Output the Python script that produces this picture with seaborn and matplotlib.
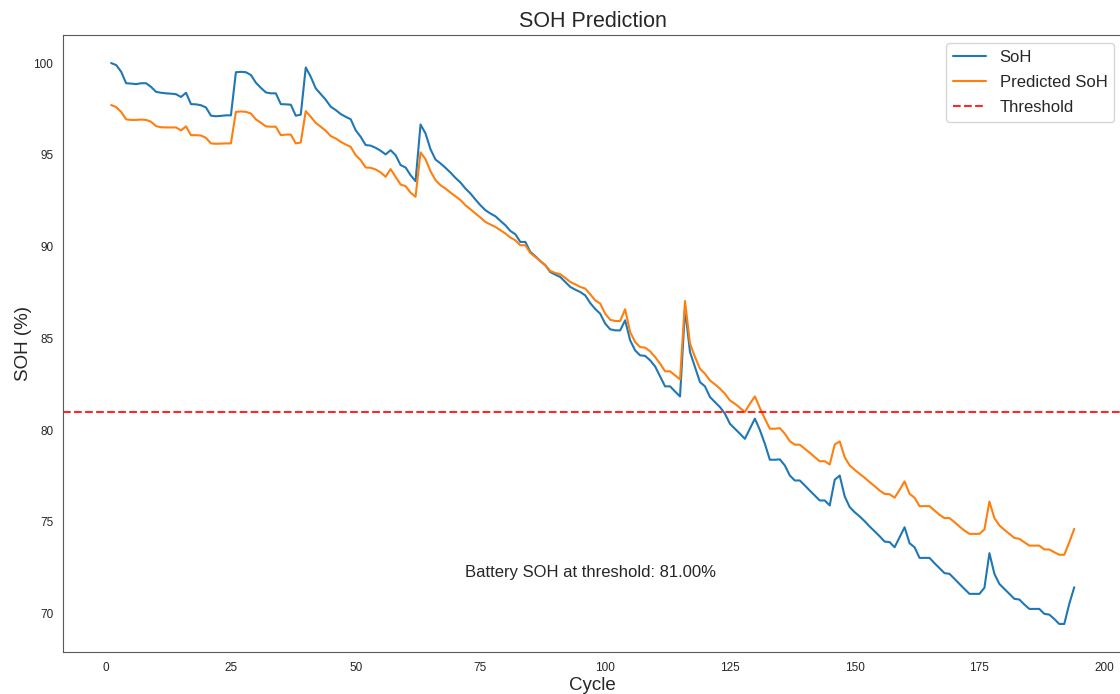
#!/usr/bin/env python3

import numpy as np
import pandas as pd
import seaborn as sns
import matplotlib as mpl
import matplotlib.pyplot as plt

sns.set_style("white", {"axes.edgecolor": "0.35"})
mpl.rcParams["font.family"] = ["Liberation Sans", "DejaVu Sans"]

threshold = 81.0

soh = [
    100.0, 99.89, 99.53, 98.9, 98.88, 98.85, 98.9, 98.9, 98.7, 98.43,
    98.38, 98.35, 98.33, 98.3, 98.15, 98.38, 97.76, 97.75, 97.7, 97.58,
    97.13, 97.1, 97.12, 97.15, 97.15, 99.5, 99.52, 99.5, 99.35, 98.93,
    98.65, 98.4, 98.35, 98.35, 97.76, 97.75, 97.73, 97.13, 97.19, 99.76,
    99.25, 98.62, 98.31, 98.0, 97.62, 97.44, 97.22, 97.07, 96.94, 96.34,
    95.98, 95.53, 95.5, 95.38, 95.22, 95.02, 95.25, 94.98, 94.44, 94.31,
    93.89, 93.56, 96.65, 96.16, 95.3, 94.74, 94.53, 94.29, 94.03, 93.74,
    93.49, 93.16, 92.89, 92.56, 92.25, 91.98, 91.8, 91.65, 91.4, 91.16,
    90.85, 90.67, 90.25, 90.25, 89.71, 89.47, 89.21, 88.98, 88.61, 88.47,
    88.34, 88.07, 87.8, 87.65, 87.52, 87.34, 86.92, 86.6, 86.34, 85.8,
    85.49, 85.43, 85.43, 85.98, 84.89, 84.34, 84.07, 84.04, 83.8, 83.47,
    82.92, 82.38, 82.38, 82.1, 81.83, 86.6, 84.25, 83.43, 82.61, 82.38,
    81.8, 81.52, 81.25, 80.89, 80.34, 80.07, 79.8, 79.52, 80.07, 80.62,
    80.0, 79.25, 78.38, 78.38, 78.4, 78.07, 77.52, 77.25, 77.25, 76.98,
    76.7, 76.43, 76.16, 76.16, 75.89, 77.29, 77.52, 76.38, 75.8, 75.52,
    75.29, 75.03, 74.74, 74.48, 74.21, 73.92, 73.89, 73.61, 74.16, 74.7,
    73.83, 73.61, 73.03, 73.03, 73.03, 72.74, 72.47, 72.2, 72.16, 71.89,
    71.61, 71.34, 71.07, 71.07, 71.07, 71.4, 73.29, 72.16, 71.61, 71.34,
    71.07, 70.8, 70.76, 70.49, 70.25, 70.25, 70.25, 69.98, 69.94, 69.7,
    69.43, 69.43, 70.52, 71.43,
]

predicted = [
    97.71, 97.6, 97.34, 96.93, 96.9, 96.9, 96.92, 96.9, 96.8, 96.56,
    96.5, 96.49, 96.49, 96.49, 96.33, 96.55, 96.07, 96.07, 96.05, 95.92,
    95.62, 95.6, 95.61, 95.62, 95.62, 97.34, 97.36, 97.34, 97.25, 96.93,
    96.75, 96.55, 96.53, 96.53, 96.07, 96.1, 96.1, 95.62, 95.67, 97.38,
    97.07, 96.74, 96.53, 96.31, 96.02, 95.89, 95.71, 95.56, 95.43, 94.98,
    94.71, 94.31, 94.29, 94.2, 94.04, 93.8, 94.22, 93.8, 93.38, 93.29,
    92.94, 92.71, 95.13, 94.76, 94.1, 93.62, 93.34, 93.16, 92.94, 92.74,
    92.53, 92.25, 92.03, 91.8, 91.58, 91.34, 91.2, 91.07, 90.89, 90.71,
    90.49, 90.34, 90.07, 90.07, 89.65, 89.43, 89.2, 88.98, 88.67, 88.56,
    88.49, 88.29, 88.07, 87.94, 87.8, 87.71, 87.4, 87.07, 86.89, 86.34,
    86.01, 85.94, 85.94, 86.58, 85.34, 84.8, 84.52, 84.49, 84.29, 83.98,
    83.62, 83.2, 83.2, 82.98, 82.76, 87.03, 84.71, 83.98, 83.34, 83.07,
    82.7, 82.49, 82.25, 81.98, 81.61, 81.43, 81.21, 80.98, 81.43, 81.83,
    81.2, 80.62, 80.07, 80.07, 80.1, 79.8, 79.39, 79.2, 79.2, 78.98,
    78.76, 78.52, 78.3, 78.3, 78.12, 79.21, 79.38, 78.52, 78.07, 77.83,
    77.61, 77.4, 77.16, 76.94, 76.7, 76.52, 76.5, 76.31, 76.74, 77.2,
    76.52, 76.31, 75.85, 75.85, 75.85, 75.61, 75.38, 75.2, 75.2, 74.98,
    74.74, 74.52, 74.34, 74.34, 74.34, 74.58, 76.1, 75.2, 74.8, 74.56,
    74.34, 74.12, 74.07, 73.88, 73.7, 73.7, 73.7, 73.49, 73.49, 73.34,
    73.2, 73.2, 73.88, 74.61,
]

cycles = np.arange(1, len(soh) + 1)

df = pd.DataFrame({"Cycle": cycles, "SoH": soh, "Predicted SoH": predicted})

fig = plt.figure(figsize=(11.2, 6.94), dpi=100)
# axes runs a little past the right edge, as in the cropped original
ax = fig.add_axes([63 / 1120, 42 / 694, 1059.4 / 1120, 617 / 694])

sns.lineplot(ax=ax, data=df, x="Cycle", y="SoH", label="SoH", color="#1f77b4", lw=1.5)
sns.lineplot(ax=ax, data=df, x="Cycle", y="Predicted SoH", label="Predicted SoH",
             color="#ff7f0e", lw=1.5)
ax.axhline(threshold, color="red", linestyle="--", lw=1.5, alpha=0.85, label="Threshold")

ax.set_xlim(-8.65, 203.65)
ax.set_title("SOH Prediction", fontsize=15.5)
ax.set_xlabel("Cycle", fontsize=13.5, labelpad=2)
ax.set_ylabel("SOH (%)", fontsize=13.5, labelpad=1)
ax.tick_params(labelsize=8.5)
ax.text(cycles.mean() - 0.5, 72, f"Battery SOH at threshold: {threshold:.2f}%",
        ha="center", fontsize=12)
ax.legend(loc="upper right", fontsize=12, labelspacing=0.6)

fig.savefig("out.png", dpi=100)
